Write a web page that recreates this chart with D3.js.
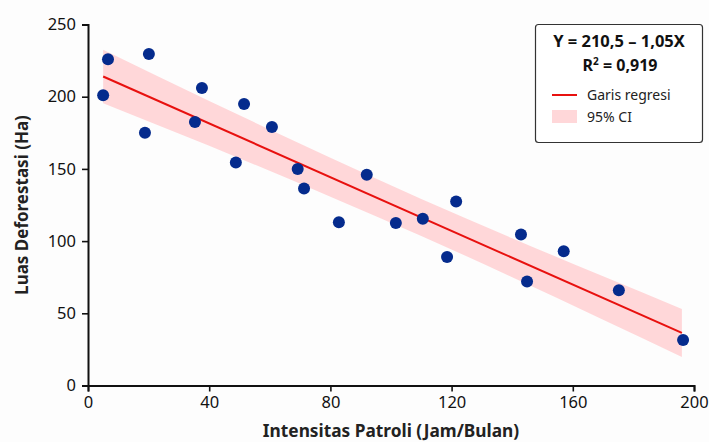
<!DOCTYPE html>
<html><head><meta charset="utf-8">
<script src="https://cdn.jsdelivr.net/npm/d3@7"></script>
<style>html,body{margin:0;padding:0;background:#fdfdfd;}svg{display:block;font-family:"Noto Sans",sans-serif;}</style>
</head><body>
<svg id="c" width="709" height="442"></svg>
<script>
// Data
const patrolHours = [5, 6.6, 18.8, 20.1, 35.3, 37.6, 48.8, 51.5, 60.7, 69.2, 71.3, 82.8, 92, 101.6, 110.5, 118.5, 121.5, 142.9, 144.9, 157, 175.2, 196.4];
const deforestation = [201, 226, 175, 229.5, 182.5, 206, 154.5, 195, 179, 150, 136.5, 113, 146, 112.5, 115.5, 89, 127.5, 104.5, 72, 93, 66, 31.5];
const fitX = [5, 196];
const fitY = [214, 36.4];
const ciX = [5, 40, 80, 110, 140, 170, 196];
const ciLow = [195.5, 166, 130.8, 103.6, 75, 45.6, 19.8];
const ciHigh = [232.5, 197, 157.8, 129.2, 102, 75.6, 53];
const xTicks = [0, 40, 80, 120, 160, 200];
const yTicks = [0, 50, 100, 150, 200, 250];
const equationText = "Y = 210,5 \u2013 1,05X";
const r2Value = "0,919";
const legendLabels = ["Garis regresi", "95% CI"];
const xTitle = "Intensitas Patroli (Jam/Bulan)";
const yTitle = "Luas Deforestasi (Ha)";

const svg = d3.select("#c");
const x = d3.scaleLinear().domain([0, 200]).range([88, 694]);
const y = d3.scaleLinear().domain([0, 250]).range([385.5, 24.5]);

// CI band
const band = ciX.map((v, i) => ({x: v, lo: ciLow[i], hi: ciHigh[i]}));
svg.append("path").datum(band)
  .attr("d", d3.area().x(d => x(d.x)).y0(d => y(d.lo)).y1(d => y(d.hi)).curve(d3.curveMonotoneX))
  .attr("fill", "#ffd7d9");

// fit line
svg.append("path").datum(fitX.map((v, i) => [v, fitY[i]]))
  .attr("d", d3.line().x(d => x(d[0])).y(d => y(d[1])))
  .attr("stroke", "#e8110f").attr("stroke-width", 2).attr("fill", "none");

// points
svg.append("g").selectAll("circle").data(patrolHours.map((v, i) => [v, deforestation[i]]))
  .join("circle").attr("cx", d => x(d[0])).attr("cy", d => y(d[1])).attr("r", 6)
  .attr("fill", "#052b8d");

// axes
const xAxis = svg.append("g").attr("transform", "translate(0,385.5)")
  .call(d3.axisBottom(x).tickValues(xTicks).tickSize(6).tickPadding(5).tickFormat(d3.format("d")));
const yAxis = svg.append("g").attr("transform", "translate(88,0)")
  .call(d3.axisLeft(y).tickValues(yTicks).tickSize(6).tickPadding(6).tickFormat(d3.format("d")));
[xAxis, yAxis].forEach(g => {
  g.select(".domain").attr("stroke", "#111").attr("stroke-width", 2);
  g.selectAll(".tick line").attr("stroke", "#111").attr("stroke-width", 1.6);
  g.selectAll(".tick text").attr("fill", "#111").style("font-size", "16.5px").style("font-family", "'Noto Sans', sans-serif");
});

// axis titles
svg.append("text").attr("x", 391).attr("y", 437).attr("text-anchor", "middle")
  .style("font-size", "17.3px").style("font-weight", "bold").attr("fill", "#222").text(xTitle);
svg.append("text").attr("transform", "translate(28,205) rotate(-90)").attr("text-anchor", "middle")
  .style("font-size", "17px").style("font-weight", "bold").attr("fill", "#222").text(yTitle);

// legend
const lg = svg.append("g");
lg.append("rect").attr("x", 535.5).attr("y", 24.5).attr("width", 167).attr("height", 118).attr("rx", 3)
  .attr("fill", "#fff").attr("stroke", "#333").attr("stroke-width", 1.2);
lg.append("text").attr("x", 619).attr("y", 46.5).attr("text-anchor", "middle")
  .style("font-size", "16.5px").style("font-weight", "bold").attr("fill", "#111").text(equationText);
const r2 = lg.append("text").attr("x", 620).attr("y", 71).attr("text-anchor", "middle")
  .style("font-size", "16px").style("font-weight", "bold").attr("fill", "#111");
r2.append("tspan").text("R");
r2.append("tspan").attr("dy", -6).style("font-size", "10px").text("2");
r2.append("tspan").attr("dy", 6).text(" = " + r2Value);
lg.append("line").attr("x1", 552).attr("x2", 577).attr("y1", 95).attr("y2", 95)
  .attr("stroke", "#e8110f").attr("stroke-width", 2);
lg.append("text").attr("x", 587).attr("y", 100).style("font-size", "14px").attr("fill", "#222").text(legendLabels[0]);
lg.append("rect").attr("x", 552).attr("y", 110).attr("width", 25).attr("height", 13).attr("fill", "#ffd7d9");
lg.append("text").attr("x", 587).attr("y", 122).style("font-size", "14px").attr("fill", "#222").text(legendLabels[1]);
</script>
</body></html>
